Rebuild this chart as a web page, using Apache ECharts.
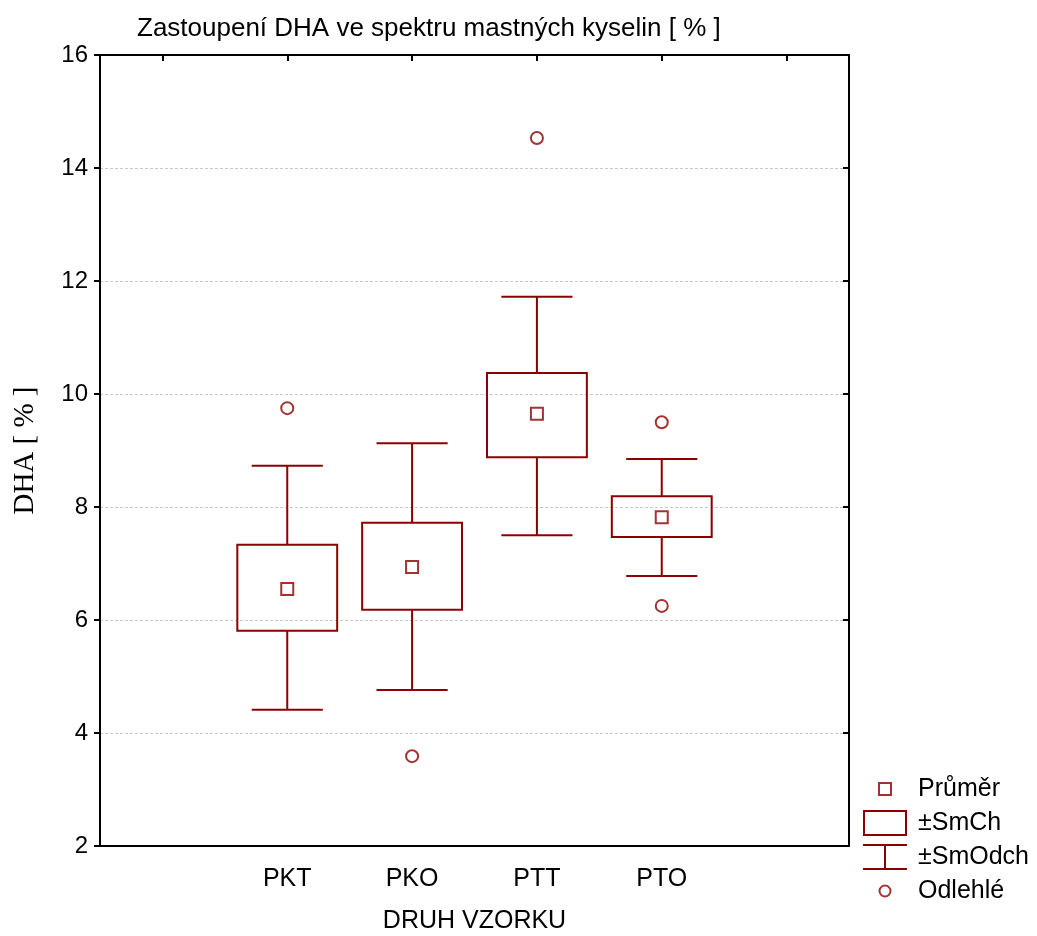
<!DOCTYPE html>
<html>
<head>
    <meta charset="utf-8">
    <title>DHA</title>
    <script src="https://cdn.jsdelivr.net/npm/echarts@6/dist/echarts.min.js"></script>
    <style>
        html, body { margin: 0; padding: 0; background: #fff; }
        #chart { width: 1037px; height: 936px; }
    </style>
</head>
<body>
<div id="chart"></div>
<script>
    // data
    var categories = ['', 'PKT', 'PKO', 'PTT', 'PTO', ''];
    var groups = ['PKT', 'PKO', 'PTT', 'PTO'];
    var means = [6.55, 6.94, 9.65, 7.82];
    var seLow = [5.81, 6.18, 8.88, 7.47];
    var seHigh = [7.33, 7.72, 10.37, 8.19];
    var sdLow = [4.41, 4.76, 7.50, 6.78];
    var sdHigh = [8.73, 9.13, 11.72, 8.85];
    var outlierGroups = ['PKT', 'PKO', 'PTT', 'PTO', 'PTO'];
    var outlierValues = [9.75, 3.59, 14.53, 9.50, 6.25];
    var yTicks = [2, 4, 6, 8, 10, 12, 14, 16];

    var red = '#8b0000';
    var font = 'Arial, "Liberation Sans", sans-serif';

    var boxData = groups.map(function (g, i) {
        return [g, sdLow[i], seLow[i], seHigh[i], sdHigh[i]];
    });
    var meanData = groups.map(function (g, i) { return [g, means[i]]; });
    var outlierData = outlierGroups.map(function (g, i) { return [g, outlierValues[i]]; });

    function renderBox(params, api) {
        var band = api.size([1, 0])[0];
        var cx = api.coord([api.value(0), 0])[0];
        var lo = api.coord([api.value(0), api.value(2)])[1];
        var hi = api.coord([api.value(0), api.value(3)])[1];
        var hw = band * 0.4;
        return {
            type: 'rect',
            shape: { x: cx - hw, y: hi, width: hw * 2, height: lo - hi },
            style: { fill: 'none', stroke: red, lineWidth: 2 }
        };
    }

    function renderWhisker(params, api) {
        var band = api.size([1, 0])[0];
        var cx = api.coord([api.value(0), 0])[0];
        var y0 = api.coord([api.value(0), api.value(1)])[1];
        var y1 = api.coord([api.value(0), api.value(2)])[1];
        var y2 = api.coord([api.value(0), api.value(3)])[1];
        var y3 = api.coord([api.value(0), api.value(4)])[1];
        var cw = band * 0.285;
        var st = { stroke: red, lineWidth: 2 };
        return {
            type: 'group',
            children: [
                { type: 'line', shape: { x1: cx, y1: y0, x2: cx, y2: y1 }, style: st },
                { type: 'line', shape: { x1: cx, y1: y2, x2: cx, y2: y3 }, style: st },
                { type: 'line', shape: { x1: cx - cw, y1: y0, x2: cx + cw, y2: y0 }, style: st },
                { type: 'line', shape: { x1: cx - cw, y1: y3, x2: cx + cw, y2: y3 }, style: st }
            ]
        };
    }

    var myChart = echarts.init(document.getElementById('chart'));
    var option = {
        backgroundColor: '#fff',
        animation: false,
        title: {
            text: 'Zastoupení DHA ve spektru mastných kyselin [ % ]',
            left: 137,
            top: 16,
            padding: 0,
            textStyle: { fontFamily: font, fontSize: 26, fontWeight: 'normal', color: '#000' }
        },
        legend: {
            orient: 'vertical',
            left: 862,
            top: 775,
            padding: 0,
            itemWidth: 44,
            itemHeight: 26,
            itemGap: 6,
            selectedMode: false,
            textStyle: { fontFamily: font, fontSize: 25, color: '#000', padding: [0, 0, 0, 6] },
            data: [
                { name: 'Průměr', icon: 'path://M0,0M44,26M16,7h12v12h-12z',
                  itemStyle: { color: '#fff', borderColor: red, borderWidth: 2 } },
                { name: '±SmCh', icon: 'path://M0,0M44,26M1,1h42v24h-42z',
                  itemStyle: { color: '#fff', borderColor: red, borderWidth: 2 } },
                { name: '±SmOdch', icon: 'path://M0,0M44,26M0,1h44M22,1v24M0,25h44',
                  itemStyle: { color: 'rgba(0,0,0,0)', borderColor: red, borderWidth: 2 } },
                { name: 'Odlehlé', icon: 'path://M0,0M44,26M16.5,13a5.5,5.5 0 1,0 11,0a5.5,5.5 0 1,0 -11,0',
                  itemStyle: { color: '#fff', borderColor: red, borderWidth: 2 } }
            ]
        },
        grid: { left: 100, right: 188, top: 55, bottom: 90, outerBoundsMode: 'none' },
        xAxis: [{
            type: 'category',
            data: categories,
            position: 'bottom',
            boundaryGap: true,
            name: 'DRUH VZORKU',
            nameLocation: 'middle',
            nameGap: 63,
            nameTextStyle: { fontFamily: font, fontSize: 25, color: '#000' },
            axisLine: { lineStyle: { color: '#000', width: 2 } },
            axisTick: { inside: true, length: 6, alignWithLabel: true, interval: 0, lineStyle: { color: '#000', width: 2 } },
            axisLabel: { interval: 0, margin: 21, fontFamily: font, fontSize: 25, color: '#000' },
            splitLine: { show: false }
        }, {
            type: 'category',
            data: categories,
            position: 'top',
            boundaryGap: true,
            axisLine: { lineStyle: { color: '#000', width: 2 } },
            axisTick: { show: true, inside: true, length: 6, alignWithLabel: true, interval: 0, lineStyle: { color: '#000', width: 2 } },
            axisLabel: { show: false },
            splitLine: { show: false }
        }],
        yAxis: [{
            type: 'value',
            min: yTicks[0],
            max: yTicks[yTicks.length - 1],
            interval: 2,
            position: 'left',
            name: 'DHA [ % ]',
            nameLocation: 'middle',
            nameGap: 60,
            nameTextStyle: { fontFamily: '"Times New Roman", "Liberation Serif", serif', fontSize: 29, color: '#000' },
            axisLine: { show: true, lineStyle: { color: '#000', width: 2 } },
            axisTick: { show: true, length: 6, lineStyle: { color: '#000', width: 2 } },
            axisLabel: { margin: 12, fontFamily: font, fontSize: 24, color: '#000' },
            splitLine: { show: true, lineStyle: { color: '#c8c8c8', width: 1, type: [3, 2] } }
        }, {
            type: 'value',
            min: yTicks[0],
            max: yTicks[yTicks.length - 1],
            interval: 2,
            position: 'right',
            axisLine: { show: true, lineStyle: { color: '#000', width: 2 } },
            axisTick: { show: true, inside: true, length: 6, lineStyle: { color: '#000', width: 2 } },
            axisLabel: { show: false },
            splitLine: { show: false }
        }],
        series: [{
            name: '±SmOdch',
            type: 'custom',
            renderItem: renderWhisker,
            encode: { x: 0, y: [1, 2, 3, 4] },
            data: boxData,
            z: 2
        }, {
            name: '±SmCh',
            type: 'custom',
            renderItem: renderBox,
            encode: { x: 0, y: [1, 2, 3, 4] },
            data: boxData,
            z: 3
        }, {
            name: 'Průměr',
            type: 'scatter',
            symbol: 'rect',
            symbolSize: 12,
            itemStyle: { color: '#fff', borderColor: red, borderWidth: 2 },
            data: meanData,
            z: 4
        }, {
            name: 'Odlehlé',
            type: 'scatter',
            symbol: 'circle',
            symbolSize: 12,
            itemStyle: { color: '#fff', borderColor: red, borderWidth: 2 },
            data: outlierData,
            z: 4
        }]
    };
    myChart.setOption(option);
</script>
</body>
</html>
